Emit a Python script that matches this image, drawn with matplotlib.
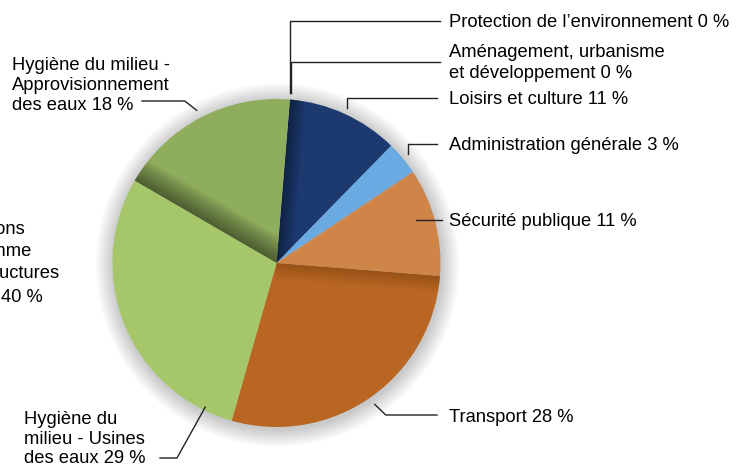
import numpy as np
import matplotlib.pyplot as plt
from matplotlib.patches import Circle, Polygon

plt.rcParams['font.family'] = ['Liberation Sans', 'DejaVu Sans']

# slices, clockwise from the top
labels = ["Protection de l’environnement 0 %",
          "Aménagement, urbanisme\net développement 0 %",
          "Loisirs et culture 11 %",
          "Administration générale 3 %",
          "Sécurité publique 11 %",
          "Transport 28 %",
          "Hygiène du\nmilieu - Usines\ndes eaux 29 %",
          "Hygiène du milieu -\nApprovisionnement\ndes eaux 18 %"]
values = [0, 0, 11.0, 3.3, 10.6, 28.1, 28.9, 17.9]
colors = ['#8fae5d', '#8fae5d', '#1d3a70', '#6aaae2', '#cf8448', '#b86622', '#a5c76a', '#8fae5d']
cut_label = ["Immobilisations", "comme", "infrastructures", "40 %"]

W, H = 748, 465
fig = plt.figure(figsize=(7.48, 4.65), dpi=100)
ax = fig.add_axes([0, 0, 1, 1])

cx, cy, R = 276.5, H - 263, 164

# soft drop shadow
for k in range(18, 0, -1):
    ax.add_patch(Circle((cx + 1, cy - 2), R + k, color='black', alpha=0.011, lw=0, zorder=0))

wedges, _ = ax.pie(values, colors=colors, startangle=85.3, counterclock=False,
                   center=(cx, cy), radius=R, wedgeprops=dict(linewidth=0))
for w in wedges:
    w.set_zorder(1)


def shade(wedge, strength, width):
    # darken inside the wedge along its clockwise-start edge
    t = np.radians(wedge.theta2)
    d = np.array([np.cos(t), np.sin(t)])
    n = np.array([np.sin(t), -np.cos(t)])
    c = np.array([cx, cy])
    for s in np.linspace(2, width, 10):
        p = Polygon([c, c + 1.1 * R * d, c + 1.1 * R * d + s * n, c + s * n],
                    closed=True, color='black', alpha=strength, lw=0, zorder=2)
        ax.add_patch(p)
        p.set_clip_path(wedge)


shade(wedges[7], 0.055, 24)
shade(wedges[2], 0.04, 16)
shade(wedges[5], 0.015, 16)


def anchor(i, f=0.5, r=1.04):
    # point on the pie at fraction f (clockwise) of wedge i
    w = wedges[i]
    a = np.radians(w.theta2 - f * (w.theta2 - w.theta1))
    return cx + r * R * np.cos(a), cy + r * R * np.sin(a)


def py(y):
    return H - y


lk = dict(color='#222222', lw=1.0, zorder=3)
fs = 13.2
dy = 2  # text baseline nudge

# right side labels
x0, y0 = anchor(0, 0, 1.04)
ax.plot([440, x0, x0], [py(21), py(21), y0], **lk)
ax.text(449, py(21 + dy), labels[0], fontsize=fs, va='center', ha='left')

x0, y0 = anchor(1, 0, 1.04)
ax.plot([440, x0 + 1, x0 + 1], [py(62), py(62), y0], **lk)
ax.text(449, py(61 + dy), labels[1], fontsize=fs, va='center', ha='left', linespacing=1.3)

x0, y0 = anchor(2, 0.5, 1.04)
ax.plot([437, x0, x0], [py(98), py(98), y0], **lk)
ax.text(449, py(98 + dy), labels[2], fontsize=fs, va='center', ha='left')

x0, y0 = anchor(3, 0.5, 1.04)
ax.plot([437, x0, x0], [py(144), py(144), y0], **lk)
ax.text(449, py(144 + dy), labels[3], fontsize=fs, va='center', ha='left')

x0, y0 = anchor(4, 0.43, 0.89)
ax.plot([442, x0], [y0, y0], **lk)
ax.text(449, py(220 + dy), labels[4], fontsize=fs, va='center', ha='left')

x0, y0 = anchor(5, 0.5, 1.05)
ax.plot([x0, x0 + 11, 437], [y0, py(415), py(415)], **lk)
ax.text(449, py(415 + dy), labels[5], fontsize=fs, va='center', ha='left')

# left side labels
x0, y0 = anchor(6, 0.1, 0.98)
ax.plot([x0, 177, 160], [y0, py(458), py(458)], **lk)
ax.text(24, py(437 + dy), labels[6], fontsize=fs, va='center', ha='left', linespacing=1.2)

x0, y0 = anchor(7, 0.5, 1.05)
ax.plot([142, x0 - 12, x0], [py(101), py(101), y0], **lk)
ax.text(12, py(83.5 + dy), labels[7], fontsize=fs, va='center', ha='left', linespacing=1.22)

# label of a neighbouring chart, cut by the left edge
for txt, xr, yy in zip(cut_label, [25, 32, 60, 43], [228, 250, 272, 295]):
    ax.text(xr, py(yy + dy), txt, fontsize=fs, va='center', ha='right')

ax.set_xlim(0, W)
ax.set_ylim(0, H)
ax.set_aspect('auto')
ax.axis('off')

fig.savefig('out.png', dpi=100)
